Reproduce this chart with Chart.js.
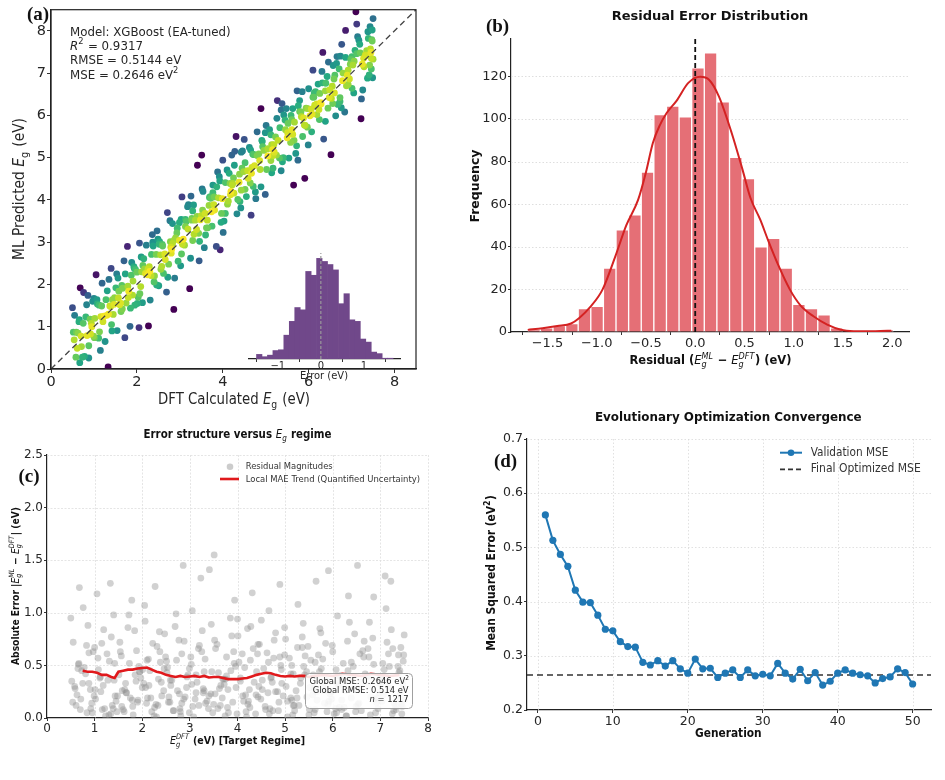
<!DOCTYPE html>
<html>
<head>
<meta charset="utf-8">
<script src="https://cdn.jsdelivr.net/npm/chart.js@4.4.1/dist/chart.umd.min.js"></script>
<style>
  html, body { margin: 0; padding: 0; background: #fff; }
  #wrap { position: relative; width: 945px; height: 780px; overflow: hidden; background: #fff; }
  #wrap canvas { position: absolute; left: 0; top: 0; }
</style>
</head>
<body>
<div id="wrap">
  <canvas id="pa" width="945" height="780"></canvas>
  <canvas id="pin" width="945" height="780"></canvas>
  <canvas id="pb" width="945" height="780"></canvas>
  <canvas id="pc" width="945" height="780"></canvas>
  <canvas id="pd" width="945" height="780"></canvas>
</div>
<script>
// ---- data ----
// test-set band gaps (eV) and residuals ML - DFT (eV), used by (a) and (c)
const dftEg = [
  0.52,0.61,0.55,0.70,0.58,0.66,0.73,0.50,0.63,0.68,
  0.78,0.91,0.84,0.97,0.76,0.88,0.94,0.81,0.99,0.86,
  1.02,1.15,1.08,1.21,1.05,1.18,1.11,1.23,1.00,1.13,
  1.33,1.39,1.31,1.45,1.28,1.42,1.35,1.48,1.34,1.40,
  1.51,1.63,1.57,1.70,1.54,1.67,1.60,1.72,1.56,1.65,
  1.75,1.88,1.81,1.95,1.78,1.91,1.84,1.97,1.80,1.93,
  2.00,2.13,2.06,2.20,2.03,2.16,2.09,2.22,2.05,2.11,
  2.25,2.38,2.31,2.45,2.27,2.41,2.34,2.46,2.29,2.36,
  2.49,2.62,2.55,2.69,2.52,2.65,2.58,2.71,2.51,2.60,
  2.74,2.77,2.80,2.94,2.86,2.90,2.83,2.96,2.79,2.88,
  2.99,3.11,3.05,3.19,3.02,3.15,3.08,3.20,3.04,3.13,
  3.23,3.36,3.30,3.44,3.26,3.39,3.32,3.45,3.28,3.41,
  3.48,3.60,3.54,3.68,3.51,3.64,3.57,3.69,3.53,3.62,
  3.72,3.85,3.79,3.93,3.75,3.88,3.81,3.94,3.77,3.90,
  3.97,4.10,4.03,4.17,4.00,4.13,4.06,4.19,4.01,4.15,
  4.22,4.35,4.28,4.42,4.25,4.38,4.31,4.43,4.27,4.40,
  4.46,4.59,4.52,4.66,4.49,4.62,4.55,4.68,4.50,4.64,
  4.71,4.84,4.77,4.91,4.74,4.87,4.80,4.93,4.76,4.89,
  4.96,5.09,5.02,5.16,4.99,5.12,5.05,5.17,5.01,5.14,
  5.20,5.33,5.27,5.41,5.23,5.36,5.29,5.42,5.25,5.38,
  5.45,5.58,5.51,5.65,5.48,5.61,5.54,5.67,5.50,5.63,
  5.70,5.83,5.76,5.90,5.73,5.86,5.79,5.91,5.75,5.88,
  5.94,6.07,6.00,6.14,5.97,6.10,6.03,6.16,5.99,6.12,
  6.19,6.31,6.25,6.39,6.22,6.35,6.28,6.40,6.24,6.33,
  6.43,6.56,6.49,6.63,6.46,6.59,6.52,6.65,6.48,6.61,
  6.68,6.80,6.74,6.88,6.71,6.84,6.77,6.90,6.73,6.86,
  6.92,7.05,6.98,7.12,6.95,7.08,7.01,7.14,6.97,7.10,
  7.17,7.29,7.23,7.37,7.20,7.33,7.26,7.39,7.22,7.35,
  7.42,7.48,7.45,7.50,7.41,7.47,7.44,7.49,7.43,7.46,
  0.54,0.88,0.65,0.95,0.71,0.59,0.83,0.92,0.75,0.67,
  1.01,1.37,1.12,1.26,1.43,1.07,1.30,1.19,1.41,1.16,
  1.47,1.85,1.58,1.73,1.90,1.53,1.79,1.66,1.87,1.62,
  1.94,2.30,2.07,2.18,2.37,2.01,2.26,2.14,2.33,2.10,
  2.40,2.78,2.53,2.66,2.83,2.47,2.72,2.59,2.81,2.56,
  2.87,3.25,2.99,3.13,3.30,2.93,3.18,3.06,3.28,3.03,
  3.33,3.71,3.46,3.59,3.77,3.40,3.65,3.52,3.74,3.50,
  3.80,4.18,3.92,4.06,4.23,3.86,4.11,3.99,4.21,3.96,
  4.26,4.65,4.39,4.52,4.70,4.33,4.58,4.45,4.67,4.43,
  4.73,5.12,4.86,4.99,5.17,4.80,5.05,4.92,5.14,4.89,
  5.19,5.59,5.32,5.46,5.63,5.26,5.52,5.39,5.61,5.36,
  5.66,6.06,5.79,5.92,6.10,5.72,5.98,5.85,6.08,5.82,
  6.13,6.53,6.26,6.39,6.57,6.19,6.45,6.32,6.55,6.29,
  6.60,7.00,6.73,6.86,7.03,6.66,6.92,6.79,7.01,6.76,
  7.06,7.46,7.19,7.32,7.50,7.12,7.38,7.25,7.48,7.28
]
const residual = [
  0.35,-0.12,0.72,0.08,-0.30,0.51,-0.45,0.95,0.22,1.24,
  -0.48,0.27,-0.05,0.63,1.05,-0.62,0.14,0.42,-0.21,0.88,
  0.18,-0.71,0.46,-0.09,1.18,0.31,-0.38,0.02,0.67,-0.25,
  -1.28,0.09,0.54,-0.16,0.36,-0.52,0.77,0.21,-0.04,0.98,
  0.41,-0.27,0.11,0.86,-0.63,0.24,-0.08,-0.98,0.59,0.33,
  -0.19,0.64,0.03,-0.44,1.12,0.17,-0.83,0.38,-0.11,0.49,
  0.29,-0.56,0.92,0.06,-0.33,0.45,-0.14,0.71,-1.07,0.19,
  -0.02,0.53,-0.68,0.26,-1.25,-0.21,0.37,-0.47,0.13,0.82,
  0.58,-0.36,0.15,-0.87,0.43,0.07,-0.15,0.99,-0.54,0.31,
  -0.26,0.74,-0.06,0.39,-1.45,0.20,0.61,-0.41,0.09,-0.73,
  0.47,-0.18,1.02,0.12,-0.58,0.34,-0.01,0.69,-0.32,0.24,
  -1.33,0.16,0.44,-0.23,0.83,-0.09,0.56,-0.89,0.28,1.41,
  0.05,-0.43,0.66,0.19,1.55,-0.12,-0.70,0.37,0.23,-0.28,
  0.32,-0.95,0.10,0.52,-0.37,0.78,-0.05,-1.12,0.40,0.15,
  -0.29,0.61,-0.53,0.22,0.94,-0.16,0.35,0.01,-0.78,0.48,
  0.13,-0.34,0.87,-0.61,0.27,0.04,1.19,-0.20,0.55,-0.44,
  0.70,-0.08,0.36,-1.02,0.18,0.62,-0.47,0.09,0.93,-0.24,
  -0.39,0.25,-0.74,0.50,0.07,-0.15,0.81,0.33,-0.57,1.27,
  0.21,0.57,-0.30,0.03,-0.86,0.42,0.16,-0.12,0.75,-0.50,
  -0.07,0.38,1.08,-0.41,0.26,-0.67,0.12,0.59,-0.19,0.90,
  0.44,-0.22,0.08,-1.30,0.68,0.29,-0.55,0.17,-0.03,0.53,
  -0.60,0.14,0.47,-0.13,0.85,-0.36,0.30,-1.40,-0.81,0.06,
  0.23,-0.46,0.63,0.10,-0.25,0.97,-0.04,0.40,-0.69,0.31,
  -0.17,0.73,-0.35,0.19,0.52,-0.91,0.02,0.36,-0.10,1.16,
  0.49,-0.28,0.11,-0.64,0.80,0.27,-1.45,0.58,-0.06,0.34,
  -0.42,0.20,0.66,-0.18,0.39,-0.76,0.91,0.05,-0.31,1.15,
  0.15,-0.52,0.35,1.04,-0.09,0.46,-0.37,0.72,0.24,1.35,
  0.61,-0.14,-0.84,-0.49,0.28,0.08,-0.66,0.43,-1.30,0.18,
  -0.23,0.54,0.04,0.79,-0.45,0.32,0.13,-0.60,0.67,-0.11,
  0.15,-0.33,0.47,0.05,-0.18,0.28,0.69,-0.09,0.33,-0.52,
  -0.27,0.12,0.39,-0.61,0.21,0.57,-0.03,0.84,-0.36,0.08,
  0.06,-0.41,0.26,0.52,-0.15,0.72,0.17,-0.24,0.35,-0.06,
  0.44,0.01,-0.29,0.19,0.63,-0.46,0.10,0.31,-0.12,0.55,
  -0.34,0.23,0.48,-0.07,0.14,0.80,-0.55,0.36,0.02,-0.20,
  0.18,-0.63,0.05,0.41,-0.26,0.29,0.66,-0.11,0.24,0.51,
  -0.14,0.37,-0.44,0.09,0.58,0.21,-0.31,0.74,-0.02,0.13,
  0.27,-0.06,0.63,-0.38,0.16,0.45,-0.21,0.04,0.85,-0.49,
  -0.10,0.53,0.22,-0.27,0.38,-0.66,0.11,0.30,-0.04,0.70,
  0.34,-0.19,0.07,0.60,-0.42,0.25,-0.01,0.46,0.17,-0.58,
  0.12,0.41,-0.33,0.20,-0.08,0.67,0.29,-0.49,0.05,0.77,
  -0.25,0.09,0.56,-0.16,0.33,-0.44,0.18,0.71,-0.05,0.26,
  0.40,-0.13,0.26,-0.53,0.61,0.08,-0.28,0.45,0.14,-0.02,
  -0.07,0.32,-0.40,0.51,0.16,0.73,-0.19,0.03,0.38,-0.58,
  0.22,-0.36,0.49,0.11,-0.17,0.34,0.60,-0.04,0.28,0.07
]

// (a) inset histogram
const insetBins = [-1.432,-1.305,-1.178,-1.051,-0.924,-0.797,-0.670,-0.543,-0.416,-0.289,-0.162,-0.035,0.092,0.219,0.346,0.473,0.600,0.727,0.854,0.981,1.108,1.235,1.362,1.489,1.616]
const insetCounts = [6,3,5,11,12,31,49,67,64,114,109,131,127,123,116,72,85,51,49,26,22,9,7,1,1]

// (b) residual histogram + KDE
const binCenters = [-1.636,-1.508,-1.380,-1.252,-1.124,-0.996,-0.868,-0.740,-0.612,-0.484,-0.356,-0.228,-0.100,0.028,0.156,0.284,0.412,0.540,0.668,0.796,0.924,1.052,1.180,1.308,1.436,1.564,1.692,1.820,1.948]
const binCounts = [1,2,3,4,11,12,30,48,55,75,102,106,101,124,131,108,82,72,40,44,30,13,11,8,2,0,0,0,1]
const kdeX = [-1.70,-1.55,-1.40,-1.26,-1.18,-1.06,-0.94,-0.81,-0.70,-0.58,-0.50,-0.43,-0.36,-0.29,-0.19,-0.07,0.05,0.14,0.24,0.37,0.48,0.56,0.66,0.74,0.84,0.96,1.07,1.20,1.34,1.48,1.61,1.75,1.88,1.99]
const kdeY = [1.0,1.8,2.8,4.0,6.5,12,20,35.6,50,62,75,88.7,97,102.8,108.5,116.9,119.8,118.4,110.6,93.4,76.2,63,52.7,43,31.7,20,12.4,7.4,3.5,1.1,0.4,0.3,0.5,0.6]

// (c) local MAE trend
const maeX = [0.75,0.85,0.95,1.05,1.15,1.25,1.35,1.42,1.5,1.6,1.7,1.8,1.9,2.0,2.1,2.2,2.3,2.4,2.5,2.6,2.7,2.8,2.9,3.0,3.1,3.2,3.3,3.4,3.5,3.6,3.7,3.8,3.9,4.0,4.1,4.2,4.3,4.4,4.5,4.6,4.7,4.8,4.9,5.0,5.1,5.2,5.3,5.4,5.5,5.6,5.8,6.0,6.2,6.4,6.6,6.8,7.0,7.2,7.4]
const maeY = [0.45,0.44,0.44,0.43,0.41,0.41,0.39,0.38,0.44,0.45,0.46,0.46,0.47,0.475,0.48,0.46,0.44,0.43,0.41,0.40,0.39,0.40,0.39,0.395,0.40,0.39,0.40,0.385,0.39,0.39,0.38,0.37,0.37,0.37,0.375,0.38,0.395,0.41,0.42,0.43,0.425,0.41,0.40,0.395,0.40,0.395,0.40,0.40,0.39,0.40,0.41,0.40,0.42,0.41,0.40,0.42,0.41,0.40,0.41]

// (d) convergence
const generations = [1,2,3,4,5,6,7,8,9,10,11,12,13,14,15,16,17,18,19,20,21,22,23,24,25,26,27,28,29,30,31,32,33,34,35,36,37,38,39,40,41,42,43,44,45,46,47,48,49,50]
const valMse = [0.560,0.513,0.487,0.465,0.421,0.399,0.398,0.375,0.349,0.346,0.326,0.317,0.316,0.288,0.283,0.291,0.281,0.291,0.276,0.268,0.294,0.276,0.277,0.260,0.268,0.274,0.260,0.274,0.263,0.266,0.263,0.286,0.268,0.257,0.275,0.254,0.269,0.246,0.253,0.268,0.274,0.268,0.265,0.263,0.250,0.258,0.261,0.276,0.269,0.248]
const finalMse = 0.2646

// tick labels
const ticksAX = [0, 2, 4, 6, 8]
const ticksAY = [0, 1, 2, 3, 4, 5, 6, 7, 8]
const ticksIn = [-1, 0, 1]
const ticksBX = [-1.5, -1.0, -0.5, 0.0, 0.5, 1.0, 1.5, 2.0]
const ticksBY = [0, 20, 40, 60, 80, 100, 120]
const ticksCX = [0, 1, 2, 3, 4, 5, 6, 7, 8]
const ticksCY = [0.0, 0.5, 1.0, 1.5, 2.0, 2.5]
const ticksDX = [0, 10, 20, 30, 40, 50]
const ticksDY = [0.2, 0.3, 0.4, 0.5, 0.6, 0.7]

// ---- helpers ----
const FONT = '"DejaVu Sans", sans-serif'
Chart.defaults.font.family = FONT

const neg = s => s.replace('-', '\u2212')
const fmtInt = v => neg(String(v))
const fmt1 = v => neg(v.toFixed(1))

const VIR = [[68,1,84],[72,36,117],[65,68,135],[53,95,141],[42,120,142],[33,145,140],[34,168,132],[68,191,112],[122,209,81],[189,223,38],[253,231,37]]
const viridisAt = t => {
  t = Math.max(0, Math.min(1, t)) * 10
  const i = Math.min(9, Math.floor(t)), f = t - i
  return `rgb(${VIR[i].map((v, k) => Math.round(v + (VIR[i + 1][k] - v) * f))})`
}

// rich text: plain strings, {t, i} italic runs, {sub, sup, up} scripts
const segFont = (italic, bold, size) => `${italic ? 'italic ' : ''}${bold ? 'bold ' : ''}${size}px ${FONT}`
function layoutRich (ctx, segs, size, bold) {
  let w = 0
  const items = []
  segs.forEach(s0 => {
    const s = typeof s0 === 'string' ? { t: s0 } : s0
    if (s.sub !== undefined || s.sup !== undefined) {
      const sz = size * 0.7
      ctx.font = segFont(!s.up, s.up && bold, sz)
      const ws = Math.max(s.sub ? ctx.measureText(s.sub).width : 0, s.sup ? ctx.measureText(s.sup).width : 0)
      items.push({ x: w, s, sz })
      w += ws + size * 0.06
    } else {
      ctx.font = segFont(s.i, bold && !s.i, size)
      items.push({ x: w, s, sz: size })
      w += ctx.measureText(s.t).width
    }
  })
  return { w, items }
}
function drawRich (ctx, segs, x, y, o) {
  const bold = !!o.bold
  ctx.save()
  const L = layoutRich(ctx, segs, o.size, bold)
  const sx = o.sx || (o.w ? o.w / L.w : 1)
  ctx.translate(x, y)
  if (o.rot) ctx.rotate(o.rot)
  ctx.scale(sx, 1)
  const x0 = o.align === 'left' ? 0 : o.align === 'right' ? -L.w : -L.w / 2
  ctx.fillStyle = o.color || '#222'
  ctx.textBaseline = 'middle'
  ctx.textAlign = 'left'
  L.items.forEach(it => {
    const s = it.s
    if (s.sub !== undefined || s.sup !== undefined) {
      ctx.font = segFont(!s.up, s.up && bold, it.sz)
      if (s.sub) ctx.fillText(s.sub, x0 + it.x, o.size * 0.3)
      if (s.sup) ctx.fillText(s.sup, x0 + it.x, -o.size * 0.38)
    } else {
      ctx.font = segFont(s.i, bold && !s.i, o.size)
      ctx.fillText(s.t, x0 + it.x, 0)
    }
  })
  ctx.restore()
  return sx
}
const panelTag = (ctx, txt, x, y) => {
  ctx.save()
  ctx.font = 'bold 19px "Liberation Serif", serif'
  ctx.fillStyle = '#111'
  ctx.textAlign = 'center'
  ctx.textBaseline = 'middle'
  ctx.fillText(txt, x, y)
  ctx.restore()
}
function grid (chart, xs, ys, color, dash) {
  const { ctx, chartArea: a, scales: { x, y } } = chart
  ctx.save()
  ctx.strokeStyle = color
  ctx.lineWidth = 0.8
  ctx.setLineDash(dash)
  xs.forEach(v => {
    const p = Math.round(x.getPixelForValue(v)) + 0.5
    ctx.beginPath(); ctx.moveTo(p, a.top); ctx.lineTo(p, a.bottom); ctx.stroke()
  })
  ys.forEach(v => {
    const p = Math.round(y.getPixelForValue(v)) + 0.5
    ctx.beginPath(); ctx.moveTo(a.left, p); ctx.lineTo(a.right, p); ctx.stroke()
  })
  ctx.restore()
}

// axis + layout builders: chart area edges in page pixels
function axis (min, max, tickVals, fmt, size, fit, tickLen, pad) {
  return {
    type: 'linear', min, max, offset: false,
    afterBuildTicks: s => { s.ticks = tickVals.map(v => ({ value: v })) },
    afterFit: fit,
    ticks: { autoSkip: false, maxRotation: 0, minRotation: 0, padding: pad === undefined ? 1 : pad, color: '#262626', font: { size }, callback: v => fmt(v) },
    grid: { drawOnChartArea: false, drawTicks: true, tickLength: tickLen || 3.5, tickColor: '#333', tickWidth: 1 },
    border: { display: true, color: '#222', width: 1.2 }
  }
}
const frame = (l, t, r, b, yW, xH) => ({ padding: { left: l - yW, top: t, right: 945 - r, bottom: 780 - b - xH } })
const baseOpts = (layout, scales) => ({
  responsive: false, animation: false, devicePixelRatio: 1, events: [],
  layout, scales,
  plugins: { legend: { display: false }, tooltip: { enabled: false } }
})
const E = { t: 'E', i: true }

// ---- (a) parity plot ----
const predEg = dftEg.map((d, i) => d + residual[i])
const ptsA = dftEg.map((d, i) => ({ x: d, y: predEg[i], t: 1 - Math.abs(residual[i]) / 1.25 })).sort((p, q) => p.t - q.t)

new Chart(document.getElementById('pa'), {
  type: 'scatter',
  data: {
    datasets: [
      { data: ptsA, pointRadius: 3.4, pointBorderWidth: 0, pointBackgroundColor: ptsA.map(p => viridisAt(p.t)), order: 2 },
      { data: [{ x: 0, y: 0 }, { x: 8.5, y: 8.5 }], showLine: true, pointRadius: 0, borderColor: '#444', borderWidth: 1.3, borderDash: [6, 4], order: 1 }
    ]
  },
  options: baseOpts(frame(51, 9, 416, 369, 51, 24), {
    x: axis(0, 8.5, ticksAX, fmtInt, 14.5, s => { s.height = 24 }, 4),
    y: axis(0, 8.5, ticksAY, fmtInt, 14.5, s => { s.width = 51 }, 4)
  }),
  plugins: [{
    id: 'decoA',
    afterDraw (c) {
      const { ctx, chartArea: a } = c
      ctx.save(); ctx.strokeStyle = '#222'; ctx.lineWidth = 1.2
      ctx.strokeRect(a.left, a.top, a.right - a.left, a.bottom - a.top); ctx.restore()
      panelTag(ctx, '(a)', 38, 15)
      const sx = drawRich(ctx, ['Model: XGBoost (EA-tuned)'], 70, 32.3, { size: 12.5, align: 'left', w: 160.7, color: '#262626' })
      drawRich(ctx, [{ t: 'R', i: true }, { sup: '2', up: true }, ' = 0.9317'], 70, 46.7, { size: 12.5, align: 'left', sx, color: '#262626' })
      drawRich(ctx, ['RMSE = 0.5144 eV'], 70, 61, { size: 12.5, align: 'left', sx, color: '#262626' })
      drawRich(ctx, ['MSE = 0.2646 eV', { sup: '2', up: true }], 70, 75.3, { size: 12.5, align: 'left', sx, color: '#262626' })
      drawRich(ctx, ['DFT Calculated ', E, { sub: 'g', up: true }, ' (eV)'], 234, 400, { size: 16, w: 152, color: '#262626' })
      drawRich(ctx, ['ML Predicted ', E, { sub: 'g', up: true }, ' (eV)'], 20, 189, { size: 16, w: 142, rot: -Math.PI / 2, color: '#262626' })
    }
  }]
})

// ---- (a) inset error histogram ----
new Chart(document.getElementById('pin'), {
  type: 'bar',
  data: {
    datasets: [
      { type: 'bar', data: insetBins.map((c, i) => ({ x: c, y: insetCounts[i] })), backgroundColor: 'rgb(112,72,138)', borderWidth: 0, barPercentage: 1, categoryPercentage: 1, order: 2 },
      { type: 'line', data: [{ x: 0, y: 0 }, { x: 0, y: 138 }], borderColor: '#9a9a9a', borderWidth: 1.2, borderDash: [3, 2], pointRadius: 0, order: 1 }
    ]
  },
  options: baseOpts(frame(249, 253, 400, 359, 0, 14), {
    x: axis(-1.67, 1.84, ticksIn, fmtInt, 10, s => { s.height = 14 }, 3, -2),
    y: { type: 'linear', min: 0, max: 138, display: false }
  }),
  plugins: [{
    id: 'decoIn',
    afterDraw (c) {
      drawRich(c.ctx, ['Error (eV)'], 324, 376, { size: 10.5, w: 48, color: '#262626' })
    }
  }]
})

// ---- (b) residual distribution ----
new Chart(document.getElementById('pb'), {
  type: 'bar',
  data: {
    datasets: [
      { type: 'bar', data: binCenters.map((c, i) => ({ x: c, y: binCounts[i] })), backgroundColor: 'rgb(229,111,118)', borderColor: '#fff', borderWidth: 1, barPercentage: 1, categoryPercentage: 1, order: 3 },
      { type: 'line', data: kdeX.map((v, i) => ({ x: v, y: kdeY[i] })), borderColor: '#d42222', borderWidth: 2, pointRadius: 0, cubicInterpolationMode: 'monotone', order: 2 },
      { type: 'line', data: [{ x: 0, y: 0 }, { x: 0, y: 137.5 }], borderColor: '#111', borderWidth: 1.8, borderDash: [5, 3], pointRadius: 0, order: 1 }
    ]
  },
  options: baseOpts(frame(511, 39, 909, 332, 40, 22), {
    x: axis(-1.87, 2.17, ticksBX, fmt1, 13, s => { s.height = 22 }, 3),
    y: axis(0, 137.5, ticksBY, fmtInt, 13, s => { s.width = 40 }, 3)
  }),
  plugins: [{
    id: 'decoB',
    beforeDatasetsDraw (c) { grid(c, [], ticksBY.slice(1), '#d6d6d6', [1.5, 2]) },
    afterDraw (c) {
      const ctx = c.ctx
      panelTag(ctx, '(b)', 497.5, 27)
      drawRich(ctx, ['Residual Error Distribution'], 710, 17, { size: 12.5, bold: true, w: 196.7, color: '#111' })
      drawRich(ctx, ['Residual (', E, { sub: 'g', sup: 'ML' }, ' \u2212 ', E, { sub: 'g', sup: 'DFT' }, ') (eV)'], 710.5, 361, { size: 12.5, bold: true, w: 162, color: '#111' })
      drawRich(ctx, ['Frequency'], 476, 186, { size: 12.5, bold: true, w: 73, rot: -Math.PI / 2, color: '#111' })
    }
  }]
})

// ---- (c) error vs band gap ----
new Chart(document.getElementById('pc'), {
  type: 'scatter',
  data: {
    datasets: [
      { data: dftEg.map((d, i) => ({ x: d, y: Math.abs(residual[i]) })), pointRadius: 3.4, pointBorderWidth: 0, pointBackgroundColor: 'rgba(140,140,140,0.4)', order: 2 },
      { data: maeX.map((v, i) => ({ x: v, y: maeY[i] })), showLine: true, pointRadius: 0, borderColor: '#e0191c', borderWidth: 2.6, order: 1 }
    ]
  },
  options: baseOpts(frame(47, 455, 428, 718, 44, 20), {
    x: axis(0, 8, ticksCX, fmtInt, 12, s => { s.height = 20 }, 3),
    y: axis(0, 2.5, ticksCY, fmt1, 12, s => { s.width = 44 }, 3)
  }),
  plugins: [{
    id: 'decoC',
    beforeDatasetsDraw (c) { grid(c, ticksCX.slice(1), ticksCY.slice(1), '#dedede', [2, 1.5]) },
    afterDraw (c) {
      const ctx = c.ctx
      panelTag(ctx, '(c)', 29, 477)
      drawRich(ctx, ['Error structure versus ', E, { sub: 'g' }, ' regime'], 237.5, 435, { size: 12, bold: true, w: 188, color: '#111' })
      drawRich(ctx, ['Absolute Error |', E, { sub: 'g', sup: 'ML' }, ' \u2212 ', E, { sub: 'g', sup: 'DFT' }, '| (eV)'], 16, 586, { size: 10.5, bold: true, w: 158, rot: -Math.PI / 2, color: '#111' })
      drawRich(ctx, [E, { sub: 'g', sup: 'DFT' }, ' (eV) [Target Regime]'], 237.5, 741.5, { size: 11, bold: true, w: 135, color: '#111' })
      // legend
      ctx.save()
      ctx.fillStyle = 'rgba(170,170,170,0.6)'
      ctx.beginPath(); ctx.arc(230, 466.7, 3.3, 0, Math.PI * 2); ctx.fill()
      ctx.strokeStyle = '#e0191c'; ctx.lineWidth = 2.6
      ctx.beginPath(); ctx.moveTo(220, 479); ctx.lineTo(239, 479); ctx.stroke()
      ctx.restore()
      drawRich(ctx, ['Residual Magnitudes'], 245.7, 466.7, { size: 9.5, align: 'left', w: 87, color: '#333' })
      drawRich(ctx, ['Local MAE Trend (Quantified Uncertainty)'], 245.7, 479.5, { size: 9.5, align: 'left', w: 174.3, color: '#333' })
      // stats box
      ctx.save()
      ctx.fillStyle = 'rgba(255,255,255,0.88)'
      ctx.strokeStyle = '#a0a0a0'; ctx.lineWidth = 1
      ctx.beginPath(); ctx.roundRect(305.5, 673.5, 107, 35, 4); ctx.fill(); ctx.stroke()
      ctx.restore()
      const sx = drawRich(ctx, ['Global MSE: 0.2646 eV', { sup: '2', up: true }], 409.5, 681.5, { size: 9.5, align: 'right', w: 100, color: '#222' })
      drawRich(ctx, ['Global RMSE: 0.514 eV'], 408.5, 690.7, { size: 9.5, align: 'right', w: 95.7, color: '#222' })
      drawRich(ctx, [{ t: 'n', i: true }, ' = 1217'], 408.5, 699.7, { size: 9.5, align: 'right', sx, color: '#222' })
    }
  }]
})

// ---- (d) EA convergence ----
new Chart(document.getElementById('pd'), {
  type: 'scatter',
  data: {
    datasets: [
      { data: generations.map((g, i) => ({ x: g, y: valMse[i] })), showLine: true, borderColor: '#1f77b4', borderWidth: 2, pointRadius: 3.6, pointBorderWidth: 0, pointBackgroundColor: '#1f77b4', order: 1 },
      { data: [{ x: -1.45, y: finalMse }, { x: 52.45, y: finalMse }], showLine: true, borderColor: '#333', borderWidth: 1.7, borderDash: [6, 4], pointRadius: 0, order: 2 }
    ]
  },
  options: baseOpts(frame(527, 439, 931, 710, 40, 20), {
    x: axis(-1.45, 52.45, ticksDX, fmtInt, 12.5, s => { s.height = 20 }, 3),
    y: axis(0.2, 0.7, ticksDY, fmt1, 12.5, s => { s.width = 40 }, 3)
  }),
  plugins: [{
    id: 'decoD',
    beforeDatasetsDraw (c) { grid(c, ticksDX, ticksDY.slice(1), '#d9d9d9', [1.5, 2]) },
    afterDraw (c) {
      const ctx = c.ctx
      panelTag(ctx, '(d)', 505.5, 462)
      drawRich(ctx, ['Evolutionary Optimization Convergence'], 728.3, 418, { size: 12.5, bold: true, w: 266.7, color: '#111' })
      drawRich(ctx, ['Generation'], 728.3, 734, { size: 12, bold: true, w: 66.7, color: '#111' })
      drawRich(ctx, ['Mean Squared Error (eV', { sup: '2', up: true }, ')'], 492, 573, { size: 11.5, bold: true, w: 155.7, rot: -Math.PI / 2, color: '#111' })
      // legend
      ctx.save()
      ctx.strokeStyle = '#1f77b4'; ctx.lineWidth = 2
      ctx.beginPath(); ctx.moveTo(780, 452.7); ctx.lineTo(802, 452.7); ctx.stroke()
      ctx.fillStyle = '#1f77b4'
      ctx.beginPath(); ctx.arc(791, 452.7, 3.3, 0, Math.PI * 2); ctx.fill()
      ctx.strokeStyle = '#333'; ctx.lineWidth = 1.7; ctx.setLineDash([5, 3])
      ctx.beginPath(); ctx.moveTo(780, 469.3); ctx.lineTo(802, 469.3); ctx.stroke()
      ctx.restore()
      drawRich(ctx, ['Validation MSE'], 810.7, 452.7, { size: 12, align: 'left', w: 77.7, color: '#333' })
      drawRich(ctx, ['Final Optimized MSE'], 810.7, 469.3, { size: 12, align: 'left', w: 110, color: '#333' })
    }
  }]
})
</script>
</body>
</html>
